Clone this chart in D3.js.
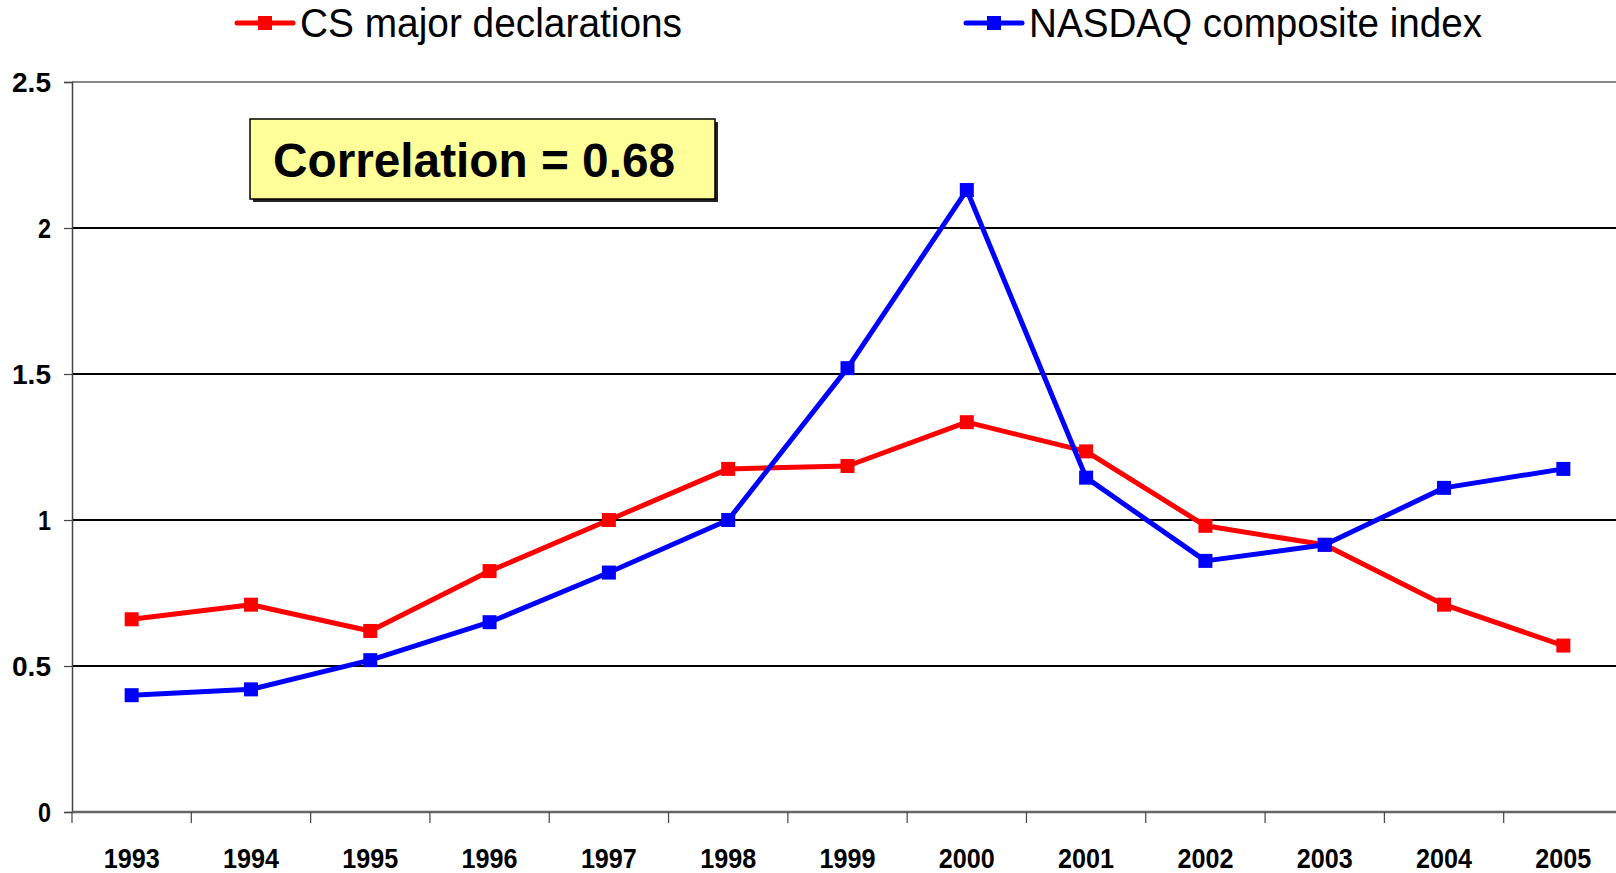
<!DOCTYPE html>
<html>
<head>
<meta charset="utf-8">
<script src="https://cdn.jsdelivr.net/npm/d3@7"></script>
<style>
  body { margin: 0; background: #fff; }
  svg { display: block; font-family: "Liberation Sans", Arial, sans-serif; }
</style>
</head>
<body>
<div id="chart"></div>
<script>
// years on the x axis
let years = ["1993","1994","1995","1996","1997","1998","1999","2000","2001","2002","2003","2004","2005"];
// CS major declarations (normalised)
let csMajors = [0.66, 0.71, 0.62, 0.825, 1.0, 1.175, 1.185, 1.335, 1.235, 0.98, 0.915, 0.71, 0.57];
// NASDAQ composite index (normalised)
let nasdaq = [0.40, 0.42, 0.52, 0.65, 0.82, 1.0, 1.52, 2.13, 1.145, 0.86, 0.915, 1.11, 1.175];
let yTicks = [0, 0.5, 1, 1.5, 2, 2.5];
let seriesNames = ["CS major declarations", "NASDAQ composite index"];
let colors = ["#ff0000", "#0000ff"];
let correlation = "Correlation = 0.68";

let width = 1616, height = 873;
let mLeft = 72, mRight = 1623, mTop = 82, mBottom = 812;

let svg = d3.select("#chart").append("svg")
    .attr("width", width).attr("height", height);

let x = d3.scaleBand().domain(years).range([mLeft, mRight]);
let y = d3.scaleLinear().domain([0, 2.5]).range([mBottom, mTop]);

// gridlines
svg.append("g").selectAll("line")
    .data(yTicks.filter(d => d > 0))
    .join("line")
    .attr("x1", mLeft).attr("x2", mRight)
    .attr("y1", d => y(d)).attr("y2", d => y(d))
    .attr("stroke", d => d == 2.5 ? "#888" : "#000")
    .attr("stroke-width", d => d == 2.5 ? 2 : 1.2)
    .attr("shape-rendering", "crispEdges");

// y axis
let yAxis = svg.append("g")
    .attr("transform", `translate(${mLeft},0)`)
    .call(d3.axisLeft(y).tickValues(yTicks).tickSize(8).tickPadding(13).tickFormat(d => d));
yAxis.select(".domain").attr("stroke", "#444").attr("stroke-width", 1.5);
yAxis.selectAll(".tick line").attr("stroke", "#444").attr("stroke-width", 1.2);
yAxis.selectAll("text")
    .attr("font-size", 28).attr("font-weight", "bold").attr("fill", "#000")
    .attr("font-family", "Liberation Sans, Arial, sans-serif")
    .attr("dy", "0.35em")
    .attr("textLength", d => String(d).length == 1 ? 13 : 39)
    .attr("lengthAdjust", "spacingAndGlyphs");

// x axis: ticks at band edges
let edges = years.map(d => x(d)).concat([x(years[years.length - 1]) + x.bandwidth()]);
let xg = svg.append("g");
xg.append("line")
    .attr("x1", mLeft).attr("x2", mRight)
    .attr("y1", mBottom).attr("y2", mBottom)
    .attr("stroke", "#666").attr("stroke-width", 2.5);
xg.selectAll("line.tk").data(edges).join("line")
    .attr("class", "tk")
    .attr("x1", d => d).attr("x2", d => d)
    .attr("y1", mBottom).attr("y2", mBottom + 11)
    .attr("stroke", "#444").attr("stroke-width", 1.2);
xg.selectAll("text").data(years).join("text")
    .attr("x", d => x(d) + x.bandwidth() / 2)
    .attr("y", 868)
    .attr("text-anchor", "middle")
    .attr("font-size", 28).attr("font-weight", "bold")
    .attr("textLength", 56).attr("lengthAdjust", "spacingAndGlyphs")
    .text(d => d);

// lines and markers
let series = [csMajors, nasdaq];
let line = d3.line()
    .x((d, i) => x(years[i]) + x.bandwidth() / 2)
    .y(d => y(d));

series.forEach(function(vals, k){
    let g = svg.append("g");
    g.append("path")
        .attr("d", line(vals))
        .attr("fill", "none")
        .attr("stroke", colors[k])
        .attr("stroke-width", 5)
        .attr("stroke-linejoin", "round");
    g.selectAll("rect").data(vals).join("rect")
        .attr("x", (d, i) => x(years[i]) + x.bandwidth() / 2 - 7)
        .attr("y", d => y(d) - 7)
        .attr("width", 14).attr("height", 14)
        .attr("fill", colors[k]);
});

// legend
let legendX = [237, 966];
let legendW = [382, 453];
seriesNames.forEach(function(name, k){
    let lg = svg.append("g").attr("transform", `translate(${legendX[k]},23)`);
    lg.append("line").attr("x1", 0).attr("x2", 56).attr("y1", 0).attr("y2", 0)
        .attr("stroke", colors[k]).attr("stroke-width", 5).attr("stroke-linecap", "round");
    lg.append("rect").attr("x", 21).attr("y", -7).attr("width", 14).attr("height", 14)
        .attr("fill", colors[k]);
    lg.append("text").attr("x", 63).attr("y", 14)
        .attr("font-size", 40)
        .attr("textLength", legendW[k]).attr("lengthAdjust", "spacingAndGlyphs")
        .text(name);
});

// correlation box
let box = svg.append("g").attr("transform", "translate(250,119)");
box.append("rect").attr("x", 3).attr("y", 3).attr("width", 465).attr("height", 80).attr("fill", "#222");
box.append("rect").attr("width", 465).attr("height", 80)
    .attr("fill", "#ffff99").attr("stroke", "#000").attr("stroke-width", 1.5);
box.append("text").attr("x", 23).attr("y", 58)
    .attr("font-size", 48).attr("font-weight", "bold")
    .attr("textLength", 402).attr("lengthAdjust", "spacingAndGlyphs")
    .text(correlation);
</script>
</body>
</html>
